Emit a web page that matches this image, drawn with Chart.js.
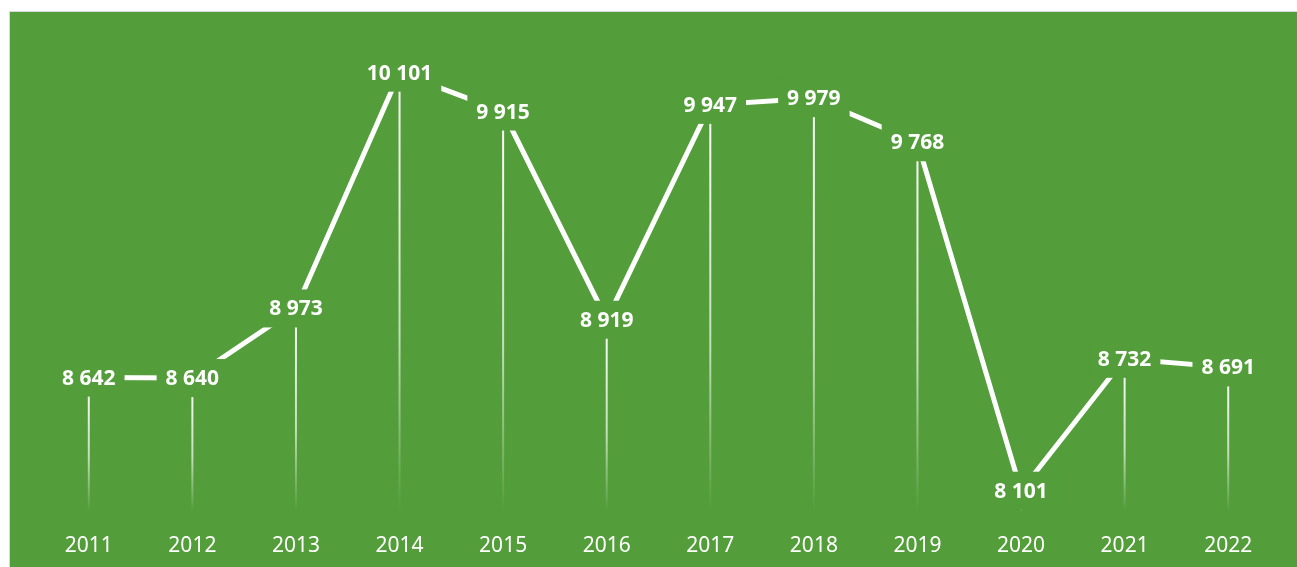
<!DOCTYPE html>
<html lang="en">
<head>
  <meta charset="UTF-8">
  <title>Yearly values 2011-2022</title>
  <script src="https://cdn.jsdelivr.net/npm/chart.js"></script>
  <style>
    body {
      margin: 0;
      background: #fff;
      font-family: 'Noto Sans', sans-serif;
      overflow: hidden;
    }

    .frame {
      position: absolute;
      left: 9px;
      top: 11px;
      width: 1290px;
      height: 560px;
      border: 1px solid #d9d9d9;
      background: #539e3a;
    }

    .chart-box {
      position: absolute;
      left: 10px;
      top: 12px;
      width: 1287px;
      height: 569px;
    }
  </style>
</head>
<body>
  <div class="frame"></div>
  <div class="chart-box">
    <canvas id="yearChart"></canvas>
  </div>

  <script>
    const years = ["2011", "2012", "2013", "2014", "2015", "2016", "2017", "2018", "2019", "2020", "2021", "2022"];
    const values = [8642, 8640, 8973, 10101, 9915, 8919, 9947, 9979, 9768, 8101, 8732, 8691];
    const yMin = 8000;
    const yMax = 10200;

    const green = '#539e3a';

    // 8642 -> "8 642"
    const fmt = v => String(v).replace(/\B(?=(\d{3})+(?!\d))/g, ' ');

    // gradient drop lines from each point down to the axis
    const dropLines = {
      id: 'dropLines',
      beforeDatasetsDraw(chart) {
        const ctx = chart.ctx;
        const meta = chart.getDatasetMeta(0);
        const bottom = chart.chartArea.bottom;
        ctx.save();
        ctx.lineWidth = 2;
        meta.data.forEach(pt => {
          const g = ctx.createLinearGradient(0, pt.y, 0, bottom);
          g.addColorStop(0, 'rgba(255,255,255,1)');
          g.addColorStop(0.6, 'rgba(255,255,255,0.65)');
          g.addColorStop(1, 'rgba(255,255,255,0)');
          ctx.strokeStyle = g;
          ctx.beginPath();
          ctx.moveTo(pt.x, pt.y);
          ctx.lineTo(pt.x, bottom);
          ctx.stroke();
        });
        ctx.restore();
      }
    };

    // value labels centred on the points, on a green box that cuts the lines
    const valueLabels = {
      id: 'valueLabels',
      afterDatasetsDraw(chart) {
        const ctx = chart.ctx;
        const meta = chart.getDatasetMeta(0);
        ctx.save();
        ctx.font = 'bold 21px "Noto Sans"';
        ctx.textAlign = 'center';
        ctx.textBaseline = 'middle';
        meta.data.forEach((pt, i) => {
          const txt = fmt(values[i]);
          const w = ctx.measureText(txt).width + 18;
          const h = 38;
          ctx.fillStyle = green;
          ctx.fillRect(pt.x - w / 2, pt.y - h / 2, w, h);
          ctx.fillStyle = '#fff';
          ctx.fillText(txt, pt.x, pt.y + 1);
        });
        ctx.restore();
      }
    };

    new Chart(document.getElementById('yearChart'), {
      type: 'line',
      data: {
        labels: years,
        datasets: [{
          data: values,
          borderColor: '#fff',
          borderWidth: 5,
          pointRadius: 0,
          tension: 0,
          fill: false
        }]
      },
      options: {
        responsive: true,
        maintainAspectRatio: false,
        animation: false,
        layout: {
          padding: { left: 27, right: 17, top: 40, bottom: 0 }
        },
        plugins: {
          legend: { display: false },
          tooltip: { enabled: false }
        },
        scales: {
          x: {
            offset: true,
            border: { display: false },
            grid: { display: false, drawTicks: false },
            ticks: {
              color: '#fff',
              padding: 22,
              font: { family: 'Noto Sans', size: 21 }
            }
          },
          y: {
            display: false,
            min: yMin,
            max: yMax
          }
        }
      },
      plugins: [dropLines, valueLabels]
    });
  </script>
</body>
</html>
